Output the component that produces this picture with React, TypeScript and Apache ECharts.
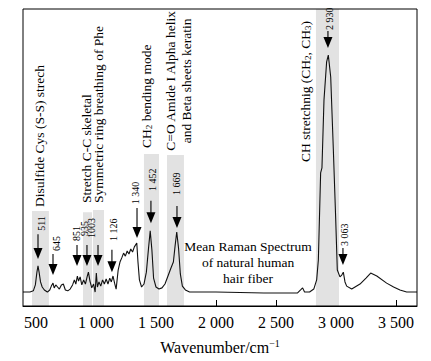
import React, { useEffect, useRef } from "react";
import * as echarts from "echarts";

const FONT = "Liberation Serif, Times New Roman, serif";

// Raman shift (cm^-1) and relative intensity (a.u.)
const wavenumbers = [392, 450, 478, 495, 508, 517, 526, 538, 552, 570, 595, 615, 628, 642, 652, 665, 680, 695, 712, 728, 745, 765, 785, 805, 820, 832, 845, 855, 868, 882, 897, 912, 926, 937, 950, 965, 980, 993, 1003, 1012, 1025, 1040, 1055, 1070, 1085, 1100, 1115, 1128, 1142, 1155, 1168, 1185, 1200, 1215, 1230, 1245, 1260, 1275, 1290, 1305, 1320, 1340, 1350, 1362, 1380, 1400, 1420, 1438, 1452, 1466, 1480, 1500, 1525, 1550, 1575, 1600, 1625, 1645, 1660, 1673, 1688, 1703, 1720, 1745, 1780, 2000, 2400, 2680, 2705, 2722, 2738, 2780, 2815, 2839, 2853, 2872, 2883, 2900, 2922, 2936, 2956, 2978, 2997, 3011, 3033, 3048, 3061, 3075, 3089, 3131, 3200, 3250, 3289, 3340, 3422, 3480, 3533, 3589, 3675];
const intensities = [4.7, 4.7, 5.1, 7.1, 11.4, 13.5, 11.4, 8.1, 6.4, 5.4, 4.7, 5.4, 6.7, 7.7, 6.1, 7.1, 6.4, 5.7, 7.1, 7.4, 5.4, 5.1, 5.7, 7.1, 8.8, 7.4, 10.1, 8.4, 9.8, 7.1, 8.8, 7.4, 9.8, 11.4, 8.4, 6.1, 7.4, 4.7, 11.1, 6.4, 8.1, 6.7, 8.8, 7.4, 9.1, 7.4, 9.4, 8.1, 10.1, 7.7, 5.7, 12.1, 14.8, 16.2, 17.8, 16.8, 18.5, 17.5, 19.2, 18.2, 19.9, 21.2, 14.8, 8.8, 6.4, 7.4, 11.4, 19.5, 25.3, 18.9, 9.4, 6.4, 5.7, 6.1, 7.4, 10.1, 12.8, 14.8, 20.5, 24.9, 19.5, 10.8, 6.7, 5.4, 4.7, 4.7, 4.4, 4.4, 5.4, 6.1, 4.7, 4.7, 5.7, 8.8, 15.5, 44.8, 46.5, 69.4, 82.2, 84.5, 77.1, 52.5, 30.0, 12.1, 9.8, 10.4, 11.4, 8.1, 6.7, 5.7, 7.4, 9.4, 11.1, 10.1, 7.7, 6.4, 5.4, 4.7, 4.7];

const tickValues = [500, 1000, 1500, 2000, 2500, 3000, 3500];

// shaded bands: [from, to, top]
const bandFrom = [467, 892, 975, 1400, 1592, 2833];
const bandTo = [608, 967, 1067, 1525, 1733, 3025];
const bandTop = [32.0, 31.6, 32.3, 51.2, 50.8, 100];

// peak labels
const peakLabels = ["511", "645", "851", "935", "1003", "1 126", "1 340", "1 452", "1 669", "2 930", "3 063"];
const arrowX = [517, 642, 842, 925, 1017, 1133, 1342, 1458, 1675, 2933, 3058];
const arrowTip = [15.8, 10.4, 13.5, 13.5, 13.5, 11.4, 22.9, 27.9, 26.3, 86.9, 13.8];
const arrowTop = [24.2, 17.5, 20.5, 20.5, 20.5, 18.9, 33.0, 35.4, 33.7, 92.6, 19.5];
const labelX = [542, 675, 838, 904, 962, 1142, 1333, 1467, 1675, 2942, 3067];
const labelBottom = [25.3, 18.5, 21.9, 23.6, 22.9, 21.9, 34.3, 38.7, 37.4, 92.9, 20.2];

// vertical assignment texts
const assignTexts = [
  "Disulfide Cys (S-S) strech",
  "Stretch C-C skeletal",
  "Symmetric ring breathing of Phe",
  "{a|CH}{s|2}{a| bending mode}",
  "C=O Amide I Alpha helix",
  "and Beta sheets keratin",
  "{a|CH stretchnig (CH}{s|2}{a|, CH}{s|3}{a|)}",
];
const assignX = [533, 917, 1017, 1425, 1617, 1758, 2750];
const assignY = [33.3, 34.7, 34.7, 53.2, 75.8, 75.8, 48.5];
const assignAlign = ["left", "left", "left", "left", "center", "center", "left"];

const meanLines = ["Mean Raman Spectrum", "of natural human", "hair fiber"];
const meanX = 2267;
const meanY = [20.2, 14.5, 9.1];

export default function App() {
  const ref = useRef<HTMLDivElement>(null);
  useEffect(() => {
    if (!ref.current) return;
    const chart = echarts.init(ref.current, undefined, { renderer: "svg" });
    const fmt = (v: number) =>
      v >= 1000 ? `${Math.floor(v / 1000)} ${String(v % 1000).padStart(3, "0")}` : String(v);
    chart.setOption({
      animation: false,
      grid: {
        left: 23,
        right: 14,
        top: 9,
        bottom: 55,
        show: true,
        borderColor: "#000",
        borderWidth: 1,
        backgroundColor: "transparent",
        z: 10,
      },
      xAxis: {
        type: "value",
        min: 392,
        max: 3675,
        axisLine: { show: true, lineStyle: { color: "#000", width: 1 } },
        axisTick: {
          show: true,
          inside: true,
          length: 6,
          customValues: tickValues,
          lineStyle: { color: "#000", width: 1 },
        },
        axisLabel: {
          customValues: tickValues,
          formatter: fmt,
          color: "#000",
          fontFamily: FONT,
          fontSize: 16,
          margin: 8,
        },
        splitLine: { show: false },
        name: "{a|Wavenumber/cm}{b|−1}",
        nameLocation: "middle",
        nameGap: 32,
        nameTextStyle: {
          rich: {
            a: { fontFamily: FONT, fontSize: 16, color: "#000" },
            b: { fontFamily: FONT, fontSize: 10, color: "#000", verticalAlign: "top", padding: [0, 0, 8, 0] },
          },
        },
      },
      yAxis: {
        type: "value",
        min: 0,
        max: 100,
        show: false,
        splitLine: { show: false },
      },
      series: [
        {
          type: "line",
          data: wavenumbers.map((w, i) => [w, intensities[i]]),
          showSymbol: false,
          lineStyle: { color: "#111", width: 1.1 },
          z: 5,
          markArea: {
            silent: true,
            itemStyle: { color: "#e2e2e2" },
            data: bandFrom.map((f, i) => [
              { xAxis: f, yAxis: 0 },
              { xAxis: bandTo[i], yAxis: bandTop[i] },
            ]),
          },
        },
      ],
    });

    const px = (w: number, v: number) =>
      chart.convertToPixel({ xAxisIndex: 0, yAxisIndex: 0 }, [w, v]) as number[];

    const graphics: any[] = [];
    peakLabels.forEach((lab, i) => {
      const tip = px(arrowX[i], arrowTip[i]);
      const top = px(arrowX[i], arrowTop[i]);
      const headH = 11;
      const headW = 9;
      graphics.push({
        type: "line",
        shape: { x1: top[0], y1: top[1], x2: tip[0], y2: tip[1] - headH + 1 },
        style: { stroke: "#000", lineWidth: 1.1 },
        z: 20,
      });
      graphics.push({
        type: "polygon",
        shape: {
          points: [
            [tip[0] - headW / 2, tip[1] - headH],
            [tip[0] + headW / 2, tip[1] - headH],
            [tip[0], tip[1]],
          ],
        },
        style: { fill: "#000" },
        z: 20,
      });
      const lp = px(labelX[i], labelBottom[i]);
      graphics.push({
        type: "text",
        x: lp[0],
        y: lp[1],
        rotation: Math.PI / 2,
        style: {
          text: lab,
          font: `10px ${FONT}`,
          fill: "#000",
          align: "left",
          verticalAlign: "middle",
        },
        z: 20,
      });
    });

    assignTexts.forEach((t, i) => {
      const p = px(assignX[i], assignY[i]);
      graphics.push({
        type: "text",
        x: p[0],
        y: p[1],
        rotation: Math.PI / 2,
        style: {
          text: t.startsWith("{") ? t : `{a|${t}}`,
          rich: {
            a: { fontFamily: FONT, fontSize: 13.5, fill: "#000", verticalAlign: "bottom" },
            s: { fontFamily: FONT, fontSize: 9, fill: "#000", verticalAlign: "bottom" },
          },
          fill: "#000",
          align: assignAlign[i],
          verticalAlign: "middle",
        },
        z: 20,
      });
    });

    meanLines.forEach((t, i) => {
      const p = px(meanX, meanY[i]);
      graphics.push({
        type: "text",
        x: p[0],
        y: p[1],
        style: {
          text: t,
          font: `13.5px ${FONT}`,
          fill: "#000",
          align: "center",
          verticalAlign: "middle",
        },
        z: 20,
      });
    });

    chart.setOption({ graphic: graphics });
    return () => chart.dispose();
  }, []);
  return (
    <div
      ref={ref}
      style={{ position: "fixed", left: 0, top: 0, width: 431, height: 361, background: "#fff" }}
    />
  );
}
